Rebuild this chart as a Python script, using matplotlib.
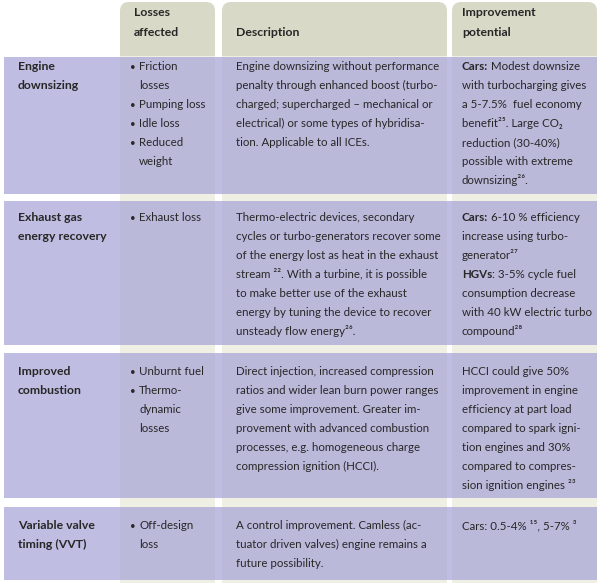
import matplotlib
matplotlib.use('Agg')
import matplotlib.pyplot as plt
from matplotlib.patches import Rectangle, FancyBboxPatch

# ---- table content ----
headers = ['Losses\naffected', 'Description', 'Improvement\npotential']

row_labels = ['Engine\ndownsizing', 'Exhaust gas\nenergy recovery',
              'Improved\ncombustion', 'Variable valve\ntiming (VVT)']

losses = [
    [['Friction', 'losses'], ['Pumping loss'], ['Idle loss'], ['Reduced', 'weight']],
    [['Exhaust loss']],
    [['Unburnt fuel'], ['Thermo-', 'dynamic', 'losses']],
    [['Off-design', 'loss']],
]

descriptions = [
    ['Engine downsizing without performance',
     'penalty through enhanced boost (turbo-',
     'charged; supercharged \u2013 mechanical or',
     'electrical) or some types of hybridisa-',
     'tion. Applicable to all ICEs.'],
    ['Thermo-electric devices, secondary',
     'cycles or turbo-generators recover some',
     'of the energy lost as heat in the exhaust',
     'stream \u00b2\u00b2. With a turbine, it is possible',
     'to make better use of the exhaust',
     'energy by tuning the device to recover',
     'unsteady flow energy\u00b2\u2076.'],
    ['Direct injection, increased compression',
     'ratios and wider lean burn power ranges',
     'give some improvement. Greater im-',
     'provement with advanced combustion',
     'processes, e.g. homogeneous charge',
     'compression ignition (HCCI).'],
    ['A control improvement. Camless (ac-',
     'tuator driven valves) engine remains a',
     'future possibility.'],
]

# (bold part, regular part) for each line
improvements = [
    [('Cars:', ' Modest downsize'), ('', 'with turbocharging gives'),
     ('', 'a 5-7.5%  fuel economy'), ('', 'benefit\u00b2\u2075. Large CO\u2082'),
     ('', 'reduction (30-40%)'), ('', 'possible with extreme'),
     ('', 'downsizing\u00b2\u2076.')],
    [('Cars:', ' 6-10 % efficiency'), ('', 'increase using turbo-'),
     ('', 'generator\u00b2\u2077'), ('HGVs', ': 3-5% cycle fuel'),
     ('', 'consumption decrease'), ('', 'with 40 kW electric turbo'),
     ('', 'compound\u00b2\u2078')],
    [('', 'HCCI could give 50%'), ('', 'improvement in engine'),
     ('', 'efficiency at part load'), ('', 'compared to spark igni-'),
     ('', 'tion engines and 30%'), ('', 'compared to compres-'),
     ('', 'sion ignition engines \u00b2\u00b3')],
    [('', 'Cars: 0.5-4% \u00b9\u2075, 5-7% \u00b3')],
]

# ---- layout (pixels) ----
W, H = 603, 583
row_tops = [57, 201, 353, 507]
row_bottoms = [194, 345, 498, 580]
first_line = [13, 20, 22, 22]   # baseline of first text line below row top
col_spans = [(120, 215), (222, 447), (452, 597)]
table_left, table_right = 4, 597
pitch = 19
fs = 8.3
FONT = ['Lato', 'DejaVu Sans']
TXT = '#272727'

fig = plt.figure(figsize=(W / 100, H / 100), dpi=100)
ax = fig.add_axes([0, 0, 1, 1])
ax.set_xlim(0, W)
ax.set_ylim(H, 0)
ax.axis('off')

# column strips + header tabs
for x0, x1 in col_spans:
    ax.add_patch(Rectangle((x0, 55), x1 - x0, H - 55, color='#f0efe4', lw=0, zorder=1))
    ax.add_patch(FancyBboxPatch((x0, 2), x1 - x0, 53,
                                boxstyle='round,pad=0,rounding_size=9',
                                fc='#d9d9c7', ec='none', zorder=2))
    ax.add_patch(Rectangle((x0, 30), x1 - x0, 26, color='#d9d9c7', lw=0, zorder=2))

# header text
head_x = [134, 236, 462]
for hx, h in zip(head_x, headers):
    lines = h.split('\n')
    start = 36 - 19.5 * (len(lines) - 1)
    for i, ln in enumerate(lines):
        ax.text(hx, start + i * 19.5, ln, fontsize=8.8, fontweight='bold',
                family=FONT, color=TXT, va='baseline', zorder=5)

# rows
for r in range(len(row_labels)):
    top, bot = row_tops[r], row_bottoms[r]
    ax.add_patch(Rectangle((table_left, top), table_right - table_left, bot - top,
                           color='#a5a3d6', alpha=0.7, lw=0, zorder=3))
    y0 = top + first_line[r]

    for i, ln in enumerate(row_labels[r].split('\n')):
        ax.text(18, y0 + i * pitch, ln, fontsize=8.8, fontweight='bold',
                family=FONT, color=TXT, va='baseline', zorder=5)

    k = 0
    for item in losses[r]:
        ax.text(130, y0 + k * pitch, '\u2022', fontsize=7, family=FONT,
                color=TXT, va='baseline', zorder=5)
        for ln in item:
            ax.text(139, y0 + k * pitch, ln, fontsize=fs, family=FONT,
                    color=TXT, va='baseline', zorder=5)
            k += 1

    for i, ln in enumerate(descriptions[r]):
        ax.text(236, y0 + i * pitch, ln, fontsize=fs, family=FONT,
                color=TXT, va='baseline', zorder=5)

    for i, (b, t) in enumerate(improvements[r]):
        y = y0 + i * pitch
        if b:
            tb = ax.text(462, y, b, fontsize=fs, fontweight='bold', family=FONT,
                         color=TXT, va='baseline', zorder=5)
            ax.annotate(t, xy=(1, 0), xycoords=tb, fontsize=fs, family=FONT,
                        color=TXT, va='bottom', ha='left', zorder=5)
        else:
            ax.text(462, y, t, fontsize=fs, family=FONT, color=TXT,
                    va='baseline', zorder=5)

fig.savefig('out.png', dpi=100)
